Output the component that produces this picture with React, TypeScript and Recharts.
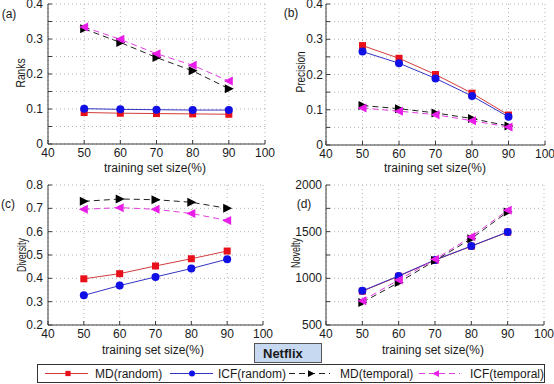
import React from 'react';
import { LineChart, Line, XAxis, YAxis, CartesianGrid } from 'recharts';

const trainingSizes = [50, 60, 70, 80, 90];
const xTicks = [40, 50, 60, 70, 80, 90, 100];

const ranksMDRandom = [0.09, 0.088, 0.087, 0.086, 0.085];
const ranksICFRandom = [0.101, 0.099, 0.098, 0.097, 0.097];
const ranksMDTemporal = [0.329, 0.29, 0.247, 0.209, 0.158];
const ranksICFTemporal = [0.334, 0.299, 0.258, 0.225, 0.18];

const precisionMDRandom = [0.282, 0.246, 0.2, 0.147, 0.085];
const precisionICFRandom = [0.265, 0.232, 0.189, 0.139, 0.08];
const precisionMDTemporal = [0.112, 0.103, 0.091, 0.075, 0.054];
const precisionICFTemporal = [0.105, 0.096, 0.086, 0.069, 0.051];

const diversityMDRandom = [0.398, 0.42, 0.453, 0.484, 0.517];
const diversityICFRandom = [0.327, 0.369, 0.406, 0.442, 0.482];
const diversityMDTemporal = [0.73, 0.74, 0.737, 0.726, 0.7];
const diversityICFTemporal = [0.696, 0.703, 0.696, 0.678, 0.648];

const noveltyMDRandom = [862, 1022, 1195, 1344, 1495];
const noveltyICFRandom = [866, 1026, 1197, 1346, 1497];
const noveltyMDTemporal = [742, 955, 1190, 1425, 1712];
const noveltyICFTemporal = [760, 983, 1204, 1446, 1730];

const ranksGrid = [0, 0.05, 0.1, 0.15, 0.2, 0.25, 0.3, 0.35, 0.4];
const ranksLabels = [0, 0.1, 0.2, 0.3, 0.4];
const diversityGrid = [0.2, 0.3, 0.4, 0.5, 0.6, 0.7, 0.8];
const noveltyGrid = [500, 750, 1000, 1250, 1500, 1750, 2000];
const noveltyLabels = [500, 1000, 1500, 2000];

const seriesNames = ['MD(random)', 'ICF(random)', 'MD(temporal)', 'ICF(temporal)'];
const seriesKeys = ['mdRandom', 'icfRandom', 'mdTemporal', 'icfTemporal'];

const SERIES_STYLE: Record<string, any> = {
  mdRandom: { stroke: '#d43c3c', dash: undefined, marker: 'square' },
  icfRandom: { stroke: '#3434c4', dash: undefined, marker: 'circle' },
  mdTemporal: { stroke: '#222222', dash: '6 4', marker: 'triRight' },
  icfTemporal: { stroke: '#e03ce0', dash: '6 4', marker: 'triLeft' },
};

const FONT = '"Liberation Sans", Arial, sans-serif';
const AXIS_COLOR = '#3a3a3a';

function buildRows(a: number[], b: number[], c: number[], d: number[]) {
  return trainingSizes.map((x, i) => ({
    x,
    mdRandom: a[i],
    icfRandom: b[i],
    mdTemporal: c[i],
    icfTemporal: d[i],
  }));
}

function Marker({ kind, cx, cy, s = 1 }: any) {
  if (cx == null || cy == null) return null;
  switch (kind) {
    case 'square':
      return <rect x={cx - 3.5 * s} y={cy - 3.5 * s} width={7 * s} height={7 * s} fill="#e8101a" />;
    case 'circle':
      return <circle cx={cx} cy={cy} r={4 * s} fill="#1010e6" />;
    case 'triRight':
      return (
        <polygon
          points={`${cx + 5 * s},${cy} ${cx - 4 * s},${cy - 4.5 * s} ${cx - 4 * s},${cy + 4.5 * s}`}
          fill="#000"
        />
      );
    case 'triLeft':
      return (
        <polygon
          points={`${cx - 5 * s},${cy} ${cx + 4 * s},${cy - 4.5 * s} ${cx + 4 * s},${cy + 4.5 * s}`}
          fill="#e81ee8"
        />
      );
    default:
      return null;
  }
}

function hasLabel(v: number, labels: number[]) {
  return labels.some((l) => Math.abs(l - v) < 1e-9);
}

function Panel({ left, top, width, height, plot, domain, grid, labels, rows, gap }: any) {
  const marginTop = plot.y0 - top;
  const yWidth = plot.x0 - left;
  const marginRight = left + width - plot.x1;
  const xHeight = top + height - plot.y1;

  const XTick = (p: any) => (
    <g>
      <line x1={p.x} x2={p.x} y1={p.y} y2={p.y - 4} stroke={AXIS_COLOR} />
      <text x={p.x} y={p.y + 8.5} textAnchor="middle" dominantBaseline="central" fontSize={12} fontFamily={FONT} fill="#1a1a1a">
        {p.payload.value}
      </text>
    </g>
  );
  const XTopTick = (p: any) => <line x1={p.x} x2={p.x} y1={p.y} y2={p.y + 4} stroke={AXIS_COLOR} />;
  const YTick = (p: any) => (
    <g>
      <line x1={p.x} x2={p.x + 4} y1={p.y} y2={p.y} stroke={AXIS_COLOR} />
      {hasLabel(p.payload.value, labels) ? (
        <text x={p.x - gap} y={p.y} textAnchor="end" dominantBaseline="central" fontSize={12} fontFamily={FONT} fill="#1a1a1a">
          {p.payload.value}
        </text>
      ) : null}
    </g>
  );
  const YRightTick = (p: any) => <line x1={p.x} x2={p.x - 4} y1={p.y} y2={p.y} stroke={AXIS_COLOR} />;

  return (
    <div style={{ position: 'absolute', left, top, width, height }}>
      <LineChart
        width={width}
        height={height}
        data={rows}
        margin={{ top: marginTop, right: marginRight, left: 0, bottom: 0 }}
        style={{ overflow: 'visible' }}
      >
        <CartesianGrid stroke="#b4b4b4" strokeDasharray="1 3" />
        <XAxis
          dataKey="x"
          type="number"
          domain={[40, 100]}
          ticks={xTicks}
          interval={0}
          height={xHeight}
          tickSize={0}
          tickMargin={0}
          tickLine={false}
          axisLine={{ stroke: AXIS_COLOR }}
          tick={XTick}
          allowDataOverflow
        />
        <XAxis
          xAxisId="top"
          orientation="top"
          dataKey="x"
          type="number"
          domain={[40, 100]}
          ticks={xTicks}
          interval={0}
          height={0}
          tickSize={0}
          tickMargin={0}
          tickLine={false}
          axisLine={{ stroke: AXIS_COLOR }}
          tick={XTopTick}
          allowDataOverflow
        />
        <YAxis
          type="number"
          domain={domain}
          ticks={grid}
          interval={0}
          width={yWidth}
          tickSize={0}
          tickMargin={0}
          tickLine={false}
          axisLine={{ stroke: AXIS_COLOR }}
          tick={YTick}
          allowDataOverflow
        />
        <YAxis
          yAxisId="right"
          orientation="right"
          type="number"
          domain={domain}
          ticks={grid}
          interval={0}
          width={0}
          tickSize={0}
          tickMargin={0}
          tickLine={false}
          axisLine={{ stroke: AXIS_COLOR }}
          tick={YRightTick}
          allowDataOverflow
        />
        {seriesKeys.map((k) => {
          const st = SERIES_STYLE[k];
          return (
            <Line
              key={k}
              dataKey={k}
              type="linear"
              stroke={st.stroke}
              strokeWidth={1}
              strokeDasharray={st.dash}
              isAnimationActive={false}
              dot={(p: any) => <Marker key={`${k}-${p.index}`} kind={st.marker} cx={p.cx} cy={p.cy} />}
              activeDot={false}
            />
          );
        })}
      </LineChart>
    </div>
  );
}

const rowsA = buildRows(ranksMDRandom, ranksICFRandom, ranksMDTemporal, ranksICFTemporal);
const rowsB = buildRows(precisionMDRandom, precisionICFRandom, precisionMDTemporal, precisionICFTemporal);
const rowsC = buildRows(diversityMDRandom, diversityICFRandom, diversityMDTemporal, diversityICFTemporal);
const rowsD = buildRows(noveltyMDRandom, noveltyICFRandom, noveltyMDTemporal, noveltyICFTemporal);

function YTitle({ x, y, text, len }: any) {
  return (
    <text
      x={x}
      y={y}
      textAnchor="middle"
      dominantBaseline="central"
      fontSize={12}
      fontFamily={FONT}
      fill="#1a1a1a"
      textLength={len}
      lengthAdjust="spacingAndGlyphs"
      transform={`rotate(-90 ${x} ${y})`}
    >
      {text}
    </text>
  );
}

function Txt({ x, y, children, anchor = 'middle', size = 12, weight = 'normal' }: any) {
  return (
    <text x={x} y={y} textAnchor={anchor} dominantBaseline="central" fontSize={size} fontWeight={weight} fontFamily={FONT} fill="#1a1a1a">
      {children}
    </text>
  );
}

const legendLayout = [
  { x1: 45, x2: 88, mx: 68, tx: 95 },
  { x1: 170, x2: 213, mx: 192, tx: 218 },
  { x1: 289, x2: 330, mx: 311, tx: 340 },
  { x1: 419, x2: 460, mx: 436, tx: 470 },
];

export default function App() {
  return (
    <div style={{ position: 'absolute', left: 0, top: 0, width: 554, height: 384, background: '#fff', fontFamily: FONT, overflow: 'hidden' }}>
      <Panel left={0} top={0} width={277} height={178} plot={{ x0: 48, x1: 265, y0: 4, y1: 144 }} domain={[0, 0.4]} grid={ranksGrid} labels={ranksLabels} rows={rowsA} gap={5} />
      <Panel left={277} top={0} width={277} height={178} plot={{ x0: 326, x1: 545, y0: 4, y1: 145 }} domain={[0, 0.4]} grid={ranksGrid} labels={ranksLabels} rows={rowsB} gap={3} />
      <Panel left={0} top={175} width={277} height={175} plot={{ x0: 48, x1: 263, y0: 185, y1: 325 }} domain={[0.2, 0.8]} grid={diversityGrid} labels={diversityGrid} rows={rowsC} gap={5} />
      <Panel left={277} top={175} width={277} height={175} plot={{ x0: 326, x1: 544, y0: 185, y1: 325 }} domain={[500, 2000]} grid={noveltyGrid} labels={noveltyLabels} rows={rowsD} gap={4} />
      <svg width={554} height={384} style={{ position: 'absolute', left: 0, top: 0, pointerEvents: 'none' }}>
        <Txt x={9} y={14}>(a)</Txt>
        <Txt x={291} y={13}>(b)</Txt>
        <Txt x={8} y={204}>(c)</Txt>
        <Txt x={304} y={204}>(d)</Txt>
        <YTitle x={21} y={73} text="Ranks" len={29} />
        <YTitle x={301} y={72} text="Precision" len={41} />
        <YTitle x={22} y={255} text="Diversity" len={34} />
        <YTitle x={296} y={253} text="Novelty" len={30} />
        <Txt x={155} y={167.5}>training set size(%)</Txt>
        <Txt x={435} y={167.5}>training set size(%)</Txt>
        <Txt x={153} y={349.5}>training set size(%)</Txt>
        <Txt x={433} y={349.5}>training set size(%)</Txt>
        <rect x={254.5} y={343.5} width={67} height={19} fill="#c6d9f1" stroke="#555" />
        <Txt x={263} y={353.5} anchor="start" size={13} weight="bold">Netflix</Txt>
        <rect x={37.5} y={364.5} width={507} height={18} fill="#fff" stroke="#333" />
        {seriesKeys.map((k, i) => {
          const st = SERIES_STYLE[k];
          const L = legendLayout[i];
          return (
            <g key={k}>
              <line x1={L.x1} x2={L.x2} y1={373.5} y2={373.5} stroke={st.stroke} strokeDasharray={st.dash} />
              <Marker kind={st.marker} cx={L.mx} cy={373.5} s={0.75} />
              <Txt x={L.tx} y={373.5} anchor="start">{seriesNames[i]}</Txt>
            </g>
          );
        })}
      </svg>
    </div>
  );
}
